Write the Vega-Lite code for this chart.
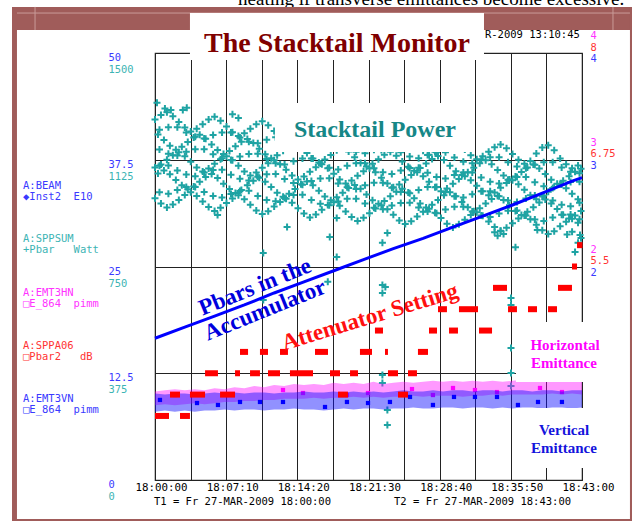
{
"$schema":"https://vega.github.io/schema/vega-lite/v6.json",
"width":427,"height":427,"autosize":"none",
"padding":{"left":155,"top":53,"right":50,"bottom":41},
"background":"#ffffff",
"config":{"view":{"stroke":"#333333","strokeWidth":1.2},"axis":{"zindex":0}},
"datasets":{
"power":[
{"t":0,"w":1266},{"t":0.6,"w":1282},{"t":1.2,"w":1292},{"t":1.8,"w":1278},{"t":2.4,"w":1258},{"t":3,"w":1238},{"t":3.6,"w":1224},{"t":4.2,"w":1234},{"t":4.8,"w":1250},{"t":5.4,"w":1266},{"t":6,"w":1276},{"t":6.6,"w":1262},{"t":7.2,"w":1242},{"t":7.8,"w":1222},{"t":8.4,"w":1208},{"t":9,"w":1218},{"t":9.6,"w":1234},{"t":10.2,"w":1250},{"t":10.8,"w":1260},{"t":11.4,"w":1246},{"t":12,"w":1226},{"t":12.6,"w":1206},{"t":13.2,"w":1192},{"t":13.8,"w":1202},{"t":14.4,"w":1218},{"t":15,"w":1234},{"t":15.6,"w":1244},{"t":16.2,"w":1230},{"t":16.8,"w":1209},{"t":17.4,"w":1189},{"t":18,"w":1175},{"t":18.6,"w":1185},{"t":19.2,"w":1201},{"t":19.8,"w":1217},{"t":20.4,"w":1227},{"t":21,"w":1213},{"t":21.6,"w":1193},{"t":22.2,"w":1173},{"t":22.8,"w":1159},{"t":23.4,"w":1169},{"t":24,"w":1185},{"t":24.6,"w":1201},{"t":25.2,"w":1211},{"t":25.8,"w":1197},{"t":26.4,"w":1177},{"t":27,"w":1157},{"t":27.6,"w":1143},{"t":28.2,"w":1153},{"t":28.8,"w":1169},{"t":29.4,"w":1185},{"t":30,"w":1195},{"t":30.6,"w":1181},{"t":31.2,"w":1161},{"t":31.8,"w":1141},{"t":32.4,"w":1127},{"t":33,"w":1137},{"t":33.6,"w":1153},{"t":34.2,"w":1169},{"t":34.8,"w":1179},{"t":35.4,"w":1165},{"t":36,"w":1145},{"t":36.6,"w":1125},{"t":37.2,"w":1111},{"t":37.8,"w":1121},{"t":38.4,"w":1147},{"t":39,"w":1168},{"t":39.6,"w":1176},{"t":40.2,"w":1158},{"t":40.8,"w":1129},{"t":41.4,"w":1109},{"t":42,"w":1095},{"t":42.6,"w":1105},
{"t":0.3,"w":1214},{"t":0.9,"w":1194},{"t":1.5,"w":1174},{"t":2.1,"w":1160},{"t":2.7,"w":1171},{"t":3.3,"w":1187},{"t":3.9,"w":1203},{"t":4.5,"w":1213},{"t":5.1,"w":1199},{"t":5.7,"w":1179},{"t":6.3,"w":1159},{"t":6.9,"w":1145},{"t":7.5,"w":1156},{"t":8.1,"w":1172},{"t":8.7,"w":1188},{"t":9.3,"w":1198},{"t":9.9,"w":1184},{"t":10.5,"w":1164},{"t":11.1,"w":1144},{"t":11.7,"w":1130},{"t":12.3,"w":1141},{"t":12.9,"w":1157},{"t":13.5,"w":1173},{"t":14.1,"w":1183},{"t":14.7,"w":1169},{"t":15.3,"w":1149},{"t":15.9,"w":1129},{"t":16.5,"w":1115},{"t":17.1,"w":1126},{"t":17.7,"w":1142},{"t":18.3,"w":1158},{"t":18.9,"w":1168},{"t":19.5,"w":1154},{"t":20.1,"w":1134},{"t":20.7,"w":1114},{"t":21.3,"w":1101},{"t":21.9,"w":1111},{"t":22.5,"w":1127},{"t":23.1,"w":1143},{"t":23.7,"w":1153},{"t":24.3,"w":1139},{"t":24.9,"w":1119},{"t":25.5,"w":1100},{"t":26.1,"w":1086},{"t":26.7,"w":1096},{"t":27.3,"w":1112},{"t":27.9,"w":1128},{"t":28.5,"w":1138},{"t":29.1,"w":1124},{"t":29.7,"w":1104},{"t":30.3,"w":1085},{"t":30.9,"w":1071},{"t":31.5,"w":1081},{"t":32.1,"w":1097},{"t":32.7,"w":1113},{"t":33.3,"w":1123},{"t":33.9,"w":1109},{"t":34.5,"w":1089},{"t":35.1,"w":1070},{"t":35.7,"w":1056},{"t":36.3,"w":1066},{"t":36.9,"w":1082},{"t":37.5,"w":1098},{"t":38.1,"w":1108},{"t":38.7,"w":1094},{"t":39.3,"w":1075},{"t":39.9,"w":1055},{"t":40.5,"w":1041},{"t":41.1,"w":1051},{"t":41.7,"w":1067},{"t":42.3,"w":1083},{"t":42.9,"w":1093},
{"t":0,"w":1098},{"t":0.6,"w":1108},{"t":1.2,"w":1125},{"t":1.8,"w":1141},{"t":2.4,"w":1151},{"t":3,"w":1137},{"t":3.6,"w":1118},{"t":4.2,"w":1098},{"t":4.8,"w":1084},{"t":5.4,"w":1094},{"t":6,"w":1111},{"t":6.6,"w":1127},{"t":7.2,"w":1137},{"t":7.8,"w":1123},{"t":8.4,"w":1104},{"t":9,"w":1084},{"t":9.6,"w":1070},{"t":10.2,"w":1080},{"t":10.8,"w":1097},{"t":11.4,"w":1113},{"t":12,"w":1123},{"t":12.6,"w":1109},{"t":13.2,"w":1090},{"t":13.8,"w":1070},{"t":14.4,"w":1056},{"t":15,"w":1066},{"t":15.6,"w":1083},{"t":16.2,"w":1099},{"t":16.8,"w":1109},{"t":17.4,"w":1095},{"t":18,"w":1076},{"t":18.6,"w":1056},{"t":19.2,"w":1042},{"t":19.8,"w":1052},{"t":20.4,"w":1069},{"t":21,"w":1085},{"t":21.6,"w":1095},{"t":22.2,"w":1081},{"t":22.8,"w":1062},{"t":23.4,"w":1042},{"t":24,"w":1028},{"t":24.6,"w":1038},{"t":25.2,"w":1055},{"t":25.8,"w":1071},{"t":26.4,"w":1081},{"t":27,"w":1067},{"t":27.6,"w":1048},{"t":28.2,"w":1028},{"t":28.8,"w":1014},{"t":29.4,"w":1024},{"t":30,"w":1041},{"t":30.6,"w":1057},{"t":31.2,"w":1067},{"t":31.8,"w":1053},{"t":32.4,"w":1034},{"t":33,"w":1014},{"t":33.6,"w":1000},{"t":34.2,"w":1010},{"t":34.8,"w":1027},{"t":35.4,"w":1043},{"t":36,"w":1053},{"t":36.6,"w":1039},{"t":37.2,"w":1020},{"t":37.8,"w":1000},{"t":38.4,"w":986},{"t":39,"w":996},{"t":39.6,"w":1013},{"t":40.2,"w":1029},{"t":40.8,"w":1039},{"t":41.4,"w":1025},{"t":42,"w":1006},{"t":42.6,"w":986},
{"t":0.3,"w":1077},{"t":0.9,"w":1087},{"t":1.5,"w":1074},{"t":2.1,"w":1054},{"t":2.7,"w":1035},{"t":3.3,"w":1021},{"t":3.9,"w":1031},{"t":4.5,"w":1048},{"t":5.1,"w":1064},{"t":5.7,"w":1075},{"t":6.3,"w":1061},{"t":6.9,"w":1041},{"t":7.5,"w":1022},{"t":8.1,"w":1008},{"t":8.7,"w":1019},{"t":9.3,"w":1035},{"t":9.9,"w":1051},{"t":10.5,"w":1062},{"t":11.1,"w":1048},{"t":11.7,"w":1029},{"t":12.3,"w":1009},{"t":12.9,"w":995},{"t":13.5,"w":1006},{"t":14.1,"w":1022},{"t":14.7,"w":1039},{"t":15.3,"w":1049},{"t":15.9,"w":1035},{"t":16.5,"w":1016},{"t":17.1,"w":996},{"t":17.7,"w":983},{"t":18.3,"w":993},{"t":18.9,"w":1009},{"t":19.5,"w":1026},{"t":20.1,"w":1036},{"t":20.7,"w":1023},{"t":21.3,"w":1003},{"t":21.9,"w":983},{"t":22.5,"w":970},{"t":23.1,"w":980},{"t":23.7,"w":997},{"t":24.3,"w":1013},{"t":24.9,"w":1023},{"t":25.5,"w":1010},{"t":26.1,"w":990},{"t":26.7,"w":971},{"t":27.3,"w":957},{"t":27.9,"w":967},{"t":28.5,"w":984},{"t":29.1,"w":1000},{"t":29.7,"w":1011},{"t":30.3,"w":997},{"t":30.9,"w":977},{"t":31.5,"w":958},{"t":32.1,"w":944},{"t":32.7,"w":955},{"t":33.3,"w":971},{"t":33.9,"w":987},{"t":34.5,"w":998},{"t":35.1,"w":984},{"t":35.7,"w":965},{"t":36.3,"w":945},{"t":36.9,"w":931},{"t":37.5,"w":942},{"t":38.1,"w":958},{"t":38.7,"w":975},{"t":39.3,"w":985},{"t":39.9,"w":971},{"t":40.5,"w":952},{"t":41.1,"w":932},{"t":41.7,"w":919},{"t":42.3,"w":929},{"t":42.9,"w":945},
{"t":0,"w":990},{"t":0.6,"w":971},{"t":1.2,"w":957},{"t":1.8,"w":968},{"t":2.4,"w":984},{"t":3,"w":1001},{"t":3.6,"w":1011},{"t":4.2,"w":998},{"t":4.8,"w":978},{"t":5.4,"w":959},{"t":6,"w":945},{"t":6.6,"w":956},{"t":7.2,"w":973},{"t":7.8,"w":989},{"t":8.4,"w":1000},{"t":9,"w":986},{"t":9.6,"w":967},{"t":10.2,"w":947},{"t":10.8,"w":934},{"t":11.4,"w":944},{"t":12,"w":961},{"t":12.6,"w":977},{"t":13.2,"w":988},{"t":13.8,"w":974},{"t":14.4,"w":955},{"t":15,"w":936},{"t":15.6,"w":922},{"t":16.2,"w":933},{"t":16.8,"w":949},{"t":17.4,"w":966},{"t":18,"w":976},{"t":18.6,"w":963},{"t":19.2,"w":943},{"t":19.8,"w":924},{"t":20.4,"w":910},{"t":21,"w":921},{"t":21.6,"w":937},{"t":22.2,"w":954},{"t":22.8,"w":965},{"t":23.4,"w":951},{"t":24,"w":932},{"t":24.6,"w":912},{"t":25.2,"w":899},{"t":25.8,"w":909},{"t":26.4,"w":926},{"t":27,"w":942},{"t":27.6,"w":953},{"t":28.2,"w":939},{"t":28.8,"w":920},{"t":29.4,"w":900},{"t":30,"w":887},{"t":30.6,"w":898},{"t":31.2,"w":914},{"t":31.8,"w":931},{"t":32.4,"w":941},{"t":33,"w":928},{"t":33.6,"w":908},{"t":34.2,"w":889},{"t":34.8,"w":875},{"t":35.4,"w":886},{"t":36,"w":902},{"t":36.6,"w":919},{"t":37.2,"w":929},{"t":37.8,"w":916},{"t":38.4,"w":897},{"t":39,"w":877},{"t":39.6,"w":864},{"t":40.2,"w":874},{"t":40.8,"w":891},{"t":41.4,"w":907},{"t":42,"w":918},{"t":42.6,"w":904},
{"t":0.45,"w":1230},{"t":1.35,"w":1239},{"t":2.25,"w":1239},{"t":3.15,"w":1221},{"t":4.05,"w":1206},{"t":4.95,"w":1200},{"t":5.85,"w":1212},{"t":6.75,"w":1221},{"t":7.65,"w":1221},{"t":8.55,"w":1203},{"t":9.45,"w":1188},{"t":10.35,"w":1183},{"t":11.25,"w":1195},{"t":12.15,"w":1204},{"t":13.05,"w":1204},{"t":13.95,"w":1186},{"t":14.85,"w":1171},{"t":15.75,"w":1165},{"t":16.65,"w":1177},{"t":17.55,"w":1186},{"t":18.45,"w":1186},{"t":19.35,"w":1168},{"t":20.25,"w":1153},{"t":21.15,"w":1148},{"t":22.05,"w":1160},{"t":22.95,"w":1169},{"t":23.85,"w":1169},{"t":24.75,"w":1151},{"t":25.65,"w":1136},{"t":26.55,"w":1130},{"t":27.45,"w":1142},{"t":28.35,"w":1151},{"t":29.25,"w":1151},{"t":30.15,"w":1133},{"t":31.05,"w":1118},{"t":31.95,"w":1113},{"t":32.85,"w":1125},{"t":33.75,"w":1134},{"t":34.65,"w":1134},{"t":35.55,"w":1116},{"t":36.45,"w":1101},{"t":37.35,"w":1095},{"t":38.25,"w":1107},{"t":39.15,"w":1116},{"t":40.05,"w":1116},{"t":40.95,"w":1098},{"t":41.85,"w":1083},{"t":42.75,"w":1078},
{"t":0.45,"w":1161},{"t":1.35,"w":1146},{"t":2.25,"w":1140},{"t":3.15,"w":1153},{"t":4.05,"w":1162},{"t":4.95,"w":1162},{"t":5.85,"w":1144},{"t":6.75,"w":1130},{"t":7.65,"w":1124},{"t":8.55,"w":1136},{"t":9.45,"w":1145},{"t":10.35,"w":1146},{"t":11.25,"w":1128},{"t":12.15,"w":1113},{"t":13.05,"w":1108},{"t":13.95,"w":1120},{"t":14.85,"w":1129},{"t":15.75,"w":1129},{"t":16.65,"w":1112},{"t":17.55,"w":1097},{"t":18.45,"w":1091},{"t":19.35,"w":1104},{"t":20.25,"w":1113},{"t":21.15,"w":1113},{"t":22.05,"w":1095},{"t":22.95,"w":1081},{"t":23.85,"w":1075},{"t":24.75,"w":1087},{"t":25.65,"w":1096},{"t":26.55,"w":1097},{"t":27.45,"w":1079},{"t":28.35,"w":1064},{"t":29.25,"w":1059},{"t":30.15,"w":1071},{"t":31.05,"w":1080},{"t":31.95,"w":1080},{"t":32.85,"w":1063},{"t":33.75,"w":1048},{"t":34.65,"w":1042},{"t":35.55,"w":1055},{"t":36.45,"w":1064},{"t":37.35,"w":1064},{"t":38.25,"w":1046},{"t":39.15,"w":1032},{"t":40.05,"w":1026},{"t":40.95,"w":1038},{"t":41.85,"w":1047},{"t":42.75,"w":1048},
{"t":0.45,"w":1104},{"t":1.35,"w":1105},{"t":2.25,"w":1087},{"t":3.15,"w":1073},{"t":4.05,"w":1067},{"t":4.95,"w":1080},{"t":5.85,"w":1089},{"t":6.75,"w":1090},{"t":7.65,"w":1072},{"t":8.55,"w":1058},{"t":9.45,"w":1052},{"t":10.35,"w":1065},{"t":11.25,"w":1074},{"t":12.15,"w":1075},{"t":13.05,"w":1057},{"t":13.95,"w":1043},{"t":14.85,"w":1037},{"t":15.75,"w":1050},{"t":16.65,"w":1059},{"t":17.55,"w":1060},{"t":18.45,"w":1042},{"t":19.35,"w":1028},{"t":20.25,"w":1022},{"t":21.15,"w":1035},{"t":22.05,"w":1044},{"t":22.95,"w":1044},{"t":23.85,"w":1027},{"t":24.75,"w":1012},{"t":25.65,"w":1007},{"t":26.55,"w":1019},{"t":27.45,"w":1029},{"t":28.35,"w":1029},{"t":29.25,"w":1012},{"t":30.15,"w":997},{"t":31.05,"w":992},{"t":31.95,"w":1004},{"t":32.85,"w":1014},{"t":33.75,"w":1014},{"t":34.65,"w":997},{"t":35.55,"w":982},{"t":36.45,"w":977},{"t":37.35,"w":989},{"t":38.25,"w":999},{"t":39.15,"w":999},{"t":40.05,"w":982},{"t":40.95,"w":967},{"t":41.85,"w":962},{"t":42.75,"w":974},
{"t":0.45,"w":1011},{"t":1.35,"w":1006},{"t":2.25,"w":1019},{"t":3.15,"w":1029},{"t":4.05,"w":1029},{"t":4.95,"w":1012},{"t":5.85,"w":998},{"t":6.75,"w":992},{"t":7.65,"w":1005},{"t":8.55,"w":1015},{"t":9.45,"w":1016},{"t":10.35,"w":998},{"t":11.25,"w":984},{"t":12.15,"w":979},{"t":13.05,"w":991},{"t":13.95,"w":1001},{"t":14.85,"w":1002},{"t":15.75,"w":984},{"t":16.65,"w":970},{"t":17.55,"w":965},{"t":18.45,"w":978},{"t":19.35,"w":988},{"t":20.25,"w":988},{"t":21.15,"w":971},{"t":22.05,"w":956},{"t":22.95,"w":951},{"t":23.85,"w":964},{"t":24.75,"w":973},{"t":25.65,"w":974},{"t":26.55,"w":957},{"t":27.45,"w":943},{"t":28.35,"w":937},{"t":29.25,"w":950},{"t":30.15,"w":960},{"t":31.05,"w":960},{"t":31.95,"w":943},{"t":32.85,"w":929},{"t":33.75,"w":924},{"t":34.65,"w":936},{"t":35.55,"w":946},{"t":36.45,"w":947},{"t":37.35,"w":929},{"t":38.25,"w":915},{"t":39.15,"w":910},{"t":40.05,"w":922},{"t":40.95,"w":932},{"t":41.85,"w":933},{"t":42.75,"w":916},
{"t":0.2,"w":1325},{"t":1.0,"w":1305},{"t":1.6,"w":1300},{"t":2.8,"w":1300},{"t":3.2,"w":1308},{"t":7.8,"w":1285},{"t":8.4,"w":1272},{"t":6.3,"w":931},{"t":10.9,"w":797},{"t":10.9,"w":632},{"t":13.3,"w":889},{"t":17.4,"w":696},{"t":17.6,"w":854},{"t":18.3,"w":920},{"t":18.3,"w":783},{"t":22.9,"w":833},{"t":23.4,"w":868},{"t":23.2,"w":678},{"t":22.9,"w":685},{"t":22.9,"w":657},{"t":22.9,"w":369},{"t":22.9,"w":341},{"t":23.4,"w":246},{"t":23.4,"w":193},{"t":34.2,"w":870},{"t":34.5,"w":858},{"t":34.8,"w":876},{"t":35.1,"w":864},{"t":35.85,"w":639},{"t":35.85,"w":615},{"t":35.85,"w":464},{"t":35.85,"w":376},{"t":35.85,"w":330},{"t":36.3,"w":818},{"t":38.5,"w":878},{"t":41.5,"w":862},{"t":42.0,"w":872},{"t":42.3,"w":801},{"t":42.6,"w":833},{"t":42.9,"w":850},{"t":42.8,"w":861}
],
"hband":[
{"t":0,"e":0.70,"e2":0.83},{"t":1,"e":0.71,"e2":0.84},{"t":2,"e":0.70,"e2":0.85},{"t":3,"e":0.71,"e2":0.84},{"t":4,"e":0.72,"e2":0.85},{"t":5,"e":0.71,"e2":0.84},{"t":6,"e":0.72,"e2":0.86},{"t":7,"e":0.73,"e2":0.85},{"t":8,"e":0.73,"e2":0.87},{"t":9,"e":0.74,"e2":0.86},{"t":10,"e":0.74,"e2":0.88},{"t":11,"e":0.75,"e2":0.87},{"t":12,"e":0.75,"e2":0.89},{"t":13,"e":0.76,"e2":0.88},{"t":14,"e":0.76,"e2":0.90},{"t":15,"e":0.76,"e2":0.89},{"t":16,"e":0.77,"e2":0.90},{"t":17,"e":0.76,"e2":0.89},{"t":18,"e":0.77,"e2":0.91},{"t":19,"e":0.77,"e2":0.90},{"t":20,"e":0.78,"e2":0.91},{"t":21,"e":0.77,"e2":0.90},{"t":22,"e":0.78,"e2":0.92},{"t":23,"e":0.77,"e2":0.90},{"t":24,"e":0.78,"e2":0.91},{"t":25,"e":0.78,"e2":0.92},{"t":26,"e":0.79,"e2":0.91},{"t":27,"e":0.78,"e2":0.92},{"t":28,"e":0.79,"e2":0.93},{"t":29,"e":0.79,"e2":0.92},{"t":30,"e":0.79,"e2":0.93},{"t":31,"e":0.78,"e2":0.92},{"t":32,"e":0.79,"e2":0.93},{"t":33,"e":0.79,"e2":0.92},{"t":34,"e":0.80,"e2":0.93},{"t":35,"e":0.79,"e2":0.92},{"t":36,"e":0.80,"e2":0.93},{"t":37,"e":0.80,"e2":0.94},{"t":38,"e":0.80,"e2":0.93},{"t":39,"e":0.80,"e2":0.94},{"t":40,"e":0.81,"e2":0.93},{"t":41,"e":0.80,"e2":0.94},{"t":42,"e":0.81,"e2":0.93},{"t":43,"e":0.80,"e2":0.93}
],
"hpts":[
{"t":2.01,"e":0.796},{"t":12.89,"e":0.843},{"t":14.9,"e":0.815},{"t":19.33,"e":0.796},{"t":21.45,"e":0.815},{"t":25.88,"e":0.852},{"t":27.99,"e":0.796},{"t":30.01,"e":0.862},{"t":32.22,"e":0.843},{"t":34.44,"e":0.824},{"t":38.77,"e":0.862},{"t":40.98,"e":0.824}
],
"vband":[
{"t":0,"e":0.64,"e2":0.81},{"t":1,"e":0.65,"e2":0.80},{"t":2,"e":0.64,"e2":0.81},{"t":3,"e":0.65,"e2":0.81},{"t":4,"e":0.64,"e2":0.80},{"t":5,"e":0.65,"e2":0.81},{"t":6,"e":0.65,"e2":0.82},{"t":7,"e":0.66,"e2":0.81},{"t":8,"e":0.65,"e2":0.82},{"t":9,"e":0.66,"e2":0.81},{"t":10,"e":0.66,"e2":0.82},{"t":11,"e":0.65,"e2":0.82},{"t":12,"e":0.66,"e2":0.81},{"t":13,"e":0.66,"e2":0.82},{"t":14,"e":0.67,"e2":0.82},{"t":15,"e":0.66,"e2":0.83},{"t":16,"e":0.66,"e2":0.82},{"t":17,"e":0.65,"e2":0.82},{"t":18,"e":0.66,"e2":0.83},{"t":19,"e":0.67,"e2":0.82},{"t":20,"e":0.66,"e2":0.83},{"t":21,"e":0.67,"e2":0.82},{"t":22,"e":0.67,"e2":0.83},{"t":23,"e":0.66,"e2":0.82},{"t":24,"e":0.67,"e2":0.83},{"t":25,"e":0.67,"e2":0.84},{"t":26,"e":0.68,"e2":0.83},{"t":27,"e":0.67,"e2":0.83},{"t":28,"e":0.67,"e2":0.84},{"t":29,"e":0.68,"e2":0.83},{"t":30,"e":0.68,"e2":0.84},{"t":31,"e":0.67,"e2":0.84},{"t":32,"e":0.68,"e2":0.83},{"t":33,"e":0.68,"e2":0.84},{"t":34,"e":0.67,"e2":0.84},{"t":35,"e":0.68,"e2":0.83},{"t":36,"e":0.67,"e2":0.84},{"t":37,"e":0.68,"e2":0.84},{"t":38,"e":0.68,"e2":0.83},{"t":39,"e":0.67,"e2":0.84},{"t":40,"e":0.68,"e2":0.84},{"t":41,"e":0.68,"e2":0.83},{"t":42,"e":0.67,"e2":0.84},{"t":43,"e":0.68,"e2":0.84}
],
"vpts":[
{"t":0.5,"e":0.75},{"t":4.23,"e":0.721},{"t":6.34,"e":0.703},{"t":8.56,"e":0.731},{"t":10.57,"e":0.731},{"t":12.89,"e":0.731},{"t":17.12,"e":0.684},{"t":19.33,"e":0.731},{"t":21.45,"e":0.721},{"t":23.66,"e":0.731},{"t":25.68,"e":0.778},{"t":27.99,"e":0.703},{"t":30.11,"e":0.778},{"t":32.22,"e":0.778},{"t":34.44,"e":0.778},{"t":36.55,"e":0.703},{"t":38.57,"e":0.731},{"t":40.98,"e":0.731}
],
"atten":[
{"t":0,"t2":1.41,"db":3.75},{"t":2.52,"t2":3.52,"db":3.75},
{"t":1.51,"t2":2.52,"db":4.0},{"t":3.52,"t2":5.04,"db":4.0},{"t":6.55,"t2":8.06,"db":4.0},{"t":18.43,"t2":19.43,"db":4.0},{"t":24.47,"t2":25.48,"db":4.0},
{"t":5.04,"t2":6.34,"db":4.25},{"t":8.06,"t2":8.56,"db":4.25},{"t":9.57,"t2":10.57,"db":4.25},{"t":11.38,"t2":12.59,"db":4.25},{"t":13.59,"t2":15.91,"db":4.25},{"t":17.62,"t2":18.63,"db":4.25},{"t":19.64,"t2":20.44,"db":4.25},{"t":23.46,"t2":24.47,"db":4.25},{"t":25.48,"t2":26.38,"db":4.25},
{"t":8.56,"t2":9.37,"db":4.5},{"t":10.57,"t2":11.38,"db":4.5},{"t":12.59,"t2":13.39,"db":4.5},{"t":16.11,"t2":17.42,"db":4.5},{"t":20.64,"t2":21.85,"db":4.5},{"t":23.16,"t2":23.46,"db":4.5},{"t":26.48,"t2":27.49,"db":4.5},
{"t":22.15,"t2":22.96,"db":4.75},{"t":27.59,"t2":28.4,"db":4.75},{"t":29.61,"t2":30.51,"db":4.75},{"t":32.63,"t2":33.94,"db":4.75},
{"t":28.5,"t2":29.4,"db":5.0},{"t":30.61,"t2":32.53,"db":5.0},{"t":35.55,"t2":36.45,"db":5.0},{"t":37.56,"t2":38.47,"db":5.0},{"t":39.58,"t2":40.48,"db":5.0},
{"t":34.04,"t2":35.45,"db":5.25},{"t":40.58,"t2":41.99,"db":5.25},
{"t":41.99,"t2":42.5,"db":5.5},{"t":42.5,"t2":43.05,"db":5.75}
],
"beam":[
{"t":0,"b":16.6},{"t":3,"b":17.9},{"t":6,"b":19.2},{"t":9,"b":20.5},{"t":12,"b":21.9},{"t":15,"b":23.2},{"t":18,"b":24.5},{"t":21,"b":25.8},{"t":24,"b":27.1},{"t":27,"b":28.3},{"t":30,"b":29.6},{"t":33,"b":30.9},{"t":36,"b":32.2},{"t":39,"b":33.6},{"t":42,"b":35.0},{"t":43,"b":35.4}
],
"frame":[
{"t":-14.4,"t2":48.5,"v":55.4,"v2":52.69},{"t":-14.4,"t2":-13.9,"v":55.4,"v2":-4.9},{"t":47.83,"t2":48.5,"v":55.4,"v2":-4.9},{"t":-14.4,"t2":48.5,"v":-4.57,"v2":-4.9}
],
"frameLines":[
{"t":-13.9,"t2":47.83,"v":54.68,"v2":54.68},{"t":-12.08,"t2":-12.08,"v":55.4,"v2":52.69},{"t":46.12,"t2":46.12,"v":55.4,"v2":52.69}
],
"boxes":[
{"t":3.52,"t2":33.13,"v":54.68,"v2":49.18},{"t":12.08,"t2":32.22,"v":44.15,"v2":38.41},{"t":36.35,"t2":46.02,"v":18.5,"v2":11.48},{"t":36.35,"t2":46.02,"v":8.43,"v2":1.4}
],
"mono":[
{"t":-13.29,"v":34.47,"txt":"A:BEAM","s":"b"},
{"t":-13.29,"v":33.1,"txt":"◆Inst2\u00a0\u00a0E10","s":"b"},
{"t":-13.29,"v":28.26,"txt":"A:SPPSUM","s":"c"},
{"t":-13.29,"v":26.89,"txt":"+Pbar\u00a0\u00a0\u00a0Watt","s":"c"},
{"t":-13.29,"v":21.94,"txt":"A:EMT3HN","s":"m"},
{"t":-13.29,"v":20.57,"txt":"□E_864\u00a0\u00a0pimm","s":"m"},
{"t":-13.29,"v":15.73,"txt":"A:SPPA06","s":"r"},
{"t":-13.29,"v":14.36,"txt":"□Pbar2\u00a0\u00a0\u00a0dB","s":"r"},
{"t":-13.29,"v":9.52,"txt":"A:EMT3VN","s":"v"},
{"t":-13.29,"v":8.16,"txt":"□E_864\u00a0\u00a0pimm","s":"v"},
{"t":33.23,"v":52.11,"txt":"R-2009 13:10:45","s":"k"},
{"t":-0.1,"v":-2.58,"txt":"T1 = Fr 27-MAR-2009 18:00:00","s":"k"},
{"t":24.07,"v":-2.58,"txt":"T2 = Fr 27-MAR-2009 18:43:00","s":"k"}
]
},
"encoding":{"x":{"field":"t","type":"quantitative","scale":{"domain":[0,43],"nice":false,"zero":false},
"axis":{"values":[0,3.583333,7.166667,10.75,14.333333,17.916667,21.5,25.083333,28.666667,32.25,35.833333,39.416667,43],
"grid":true,"gridColor":"#222222","gridWidth":1,"ticks":false,"tickSize":0,"domain":false,
"labelExpr":"round(datum.value/3.583333)%2==0 ? '18:' + format(floor(round(datum.value*60)/60),'02d') + ':' + format(round(datum.value*60)%60,'02d') : ''",
"labelFlush":false,"labelOverlap":false,"labelBound":false,"labelPadding":1,"labelOffset":6,"labelFont":"DejaVu Sans Mono","labelFontSize":10.8,"labelColor":"#000000","title":null,"zindex":0}}},
"resolve":{"scale":{"y":"independent","color":"independent"}},
"layer":[
{"data":{"name":"power"},
 "mark":{"type":"point","shape":"M-1,0L1,0M0,-1L0,1","size":49,"filled":false,"strokeWidth":2,"color":"#1ea3a3","opacity":1},
 "encoding":{"y":{"field":"w","type":"quantitative","scale":{"domain":[0,1500],"nice":false,"zero":false},
  "axis":{"orient":"left","values":[0,375,750,1125,1500],"format":"d","grid":false,"ticks":false,"tickSize":0,"domain":false,"labelAlign":"left","labelPadding":47,"labelOffset":16.5,"labelColor":"#3cb4b4","labelFont":"DejaVu Sans Mono","labelFontSize":10.4,"labelOverlap":false,"title":null,"zindex":0}}}},
{"encoding":{"y":{"field":"e","type":"quantitative","scale":{"domain":[0,4],"nice":false,"zero":false},
  "axis":{"orient":"right","values":[2,3,4],"format":"d","grid":false,"ticks":false,"tickSize":0,"domain":false,"labelAlign":"left","labelPadding":8,"labelOffset":-17.5,"labelColor":"#ff33ff","labelFont":"DejaVu Sans Mono","labelFontSize":10.4,"labelOverlap":false,"title":null,"zindex":0}}},
 "layer":[
  {"data":{"name":"hband"},"mark":{"type":"area","color":"#ff00ff","opacity":0.4},"encoding":{"y2":{"field":"e2"}}},
  {"data":{"name":"hpts"},"mark":{"type":"point","shape":"square","size":18,"filled":true,"color":"#ff00ff","opacity":1}}
 ]},
{"encoding":{"y":{"field":"e","type":"quantitative","scale":{"domain":[0,4],"nice":false,"zero":false},
  "axis":{"orient":"right","values":[2,3,4],"format":"d","grid":false,"ticks":false,"tickSize":0,"domain":false,"labelAlign":"left","labelPadding":8,"labelOffset":5.5,"labelColor":"#3a3aff","labelFont":"DejaVu Sans Mono","labelFontSize":10.4,"labelOverlap":false,"title":null,"zindex":0}}},
 "layer":[
  {"data":{"name":"vband"},"mark":{"type":"area","color":"#1010ff","opacity":0.46},"encoding":{"y2":{"field":"e2"}}},
  {"data":{"name":"vpts"},"mark":{"type":"point","shape":"square","size":18,"filled":true,"color":"#0000ff","opacity":1}}
 ]},
{"data":{"name":"atten"},
 "mark":{"type":"rule","color":"#ff0000","strokeWidth":6},
 "encoding":{"x2":{"field":"t2"},"y":{"field":"db","type":"quantitative","scale":{"domain":[3,8],"nice":false,"zero":false},
  "axis":{"orient":"right","values":[5.5,6.75,8],"format":".2~f","grid":false,"ticks":false,"tickSize":0,"domain":false,"labelAlign":"left","labelPadding":8,"labelOffset":-6,"labelColor":"#ff3333","labelFont":"DejaVu Sans Mono","labelFontSize":10.4,"labelOverlap":false,"title":null,"zindex":0}}}},
{"data":{"name":"beam"},
 "mark":{"type":"line","color":"#0000ff","strokeWidth":3},
 "encoding":{"y":{"field":"b","type":"quantitative","scale":{"domain":[0,50],"nice":false,"zero":false},
  "axis":{"orient":"left","values":[0,12.5,25,37.5,50],"format":".1~f","grid":true,"gridColor":"#222222","gridWidth":1,"ticks":false,"tickSize":0,"domain":false,"labelAlign":"left","labelPadding":47,"labelOffset":4.5,"labelColor":"#3a3aff","labelFont":"DejaVu Sans Mono","labelFontSize":10.4,"labelOverlap":false,"title":null,"zindex":0}}}},
{"encoding":{"y":{"field":"v","type":"quantitative","scale":{"domain":[0,50],"nice":false,"zero":false},"axis":null}},
 "layer":[
  {"data":{"values":[{"t":8.36,"v":55.62,"txt":"heating if transverse emittances become excessive."}]},
   "mark":{"type":"text","font":"Liberation Serif","fontSize":19,"align":"left","baseline":"alphabetic","color":"#000000"},
   "encoding":{"text":{"field":"txt"}}},
  {"data":{"name":"frame"},"mark":{"type":"rect","color":"#a05c5a"},"encoding":{"x2":{"field":"t2"},"y2":{"field":"v2"}}},
  {"data":{"name":"frameLines"},"mark":{"type":"rule","color":"#c99b98","strokeWidth":1},"encoding":{"x2":{"field":"t2"},"y2":{"field":"v2"}}},
  {"data":{"name":"boxes"},"mark":{"type":"rect","color":"#ffffff"},"encoding":{"x2":{"field":"t2"},"y2":{"field":"v2"}}},
  {"data":{"name":"mono"},"mark":{"type":"text","font":"DejaVu Sans Mono","fontSize":10.5,"align":"left","baseline":"middle"},
   "encoding":{"text":{"field":"txt"},"color":{"field":"s","type":"nominal","scale":{"domain":["b","c","m","r","v","k"],"range":["#3a3aff","#3cb4b4","#ff33ff","#ff3333","#3a3aff","#000000"]},"legend":null}}},
  {"data":{"values":[{"t":18.33,"v":50.12,"txt":"The Stacktail Monitor"}]},
   "mark":{"type":"text","font":"Liberation Serif","fontWeight":"bold","fontSize":28,"align":"center","baseline":"alphabetic","color":"#800000"},
   "encoding":{"text":{"field":"txt"}}},
  {"data":{"values":[{"t":22.15,"v":40.16,"txt":"Stacktail Power"}]},
   "mark":{"type":"text","font":"Liberation Serif","fontWeight":"bold","fontSize":24,"align":"center","baseline":"alphabetic","color":"#168787"},
   "encoding":{"text":{"field":"txt"}}},
  {"data":{"values":[{"t":10.07,"v":22.6,"txt":"Pbars in the"},{"t":11.08,"v":19.9,"txt":"Accumulator"}]},
   "mark":{"type":"text","font":"Liberation Serif","fontWeight":"bold","fontSize":23,"align":"center","baseline":"middle","angle":-22,"color":"#0000dd"},
   "encoding":{"text":{"field":"txt"}}},
  {"data":{"values":[{"t":21.65,"v":19.09,"txt":"Attenuator Setting"}]},
   "mark":{"type":"text","font":"Liberation Serif","fontWeight":"bold","fontSize":23,"align":"center","baseline":"middle","angle":-17,"color":"#ff1010"},
   "encoding":{"text":{"field":"txt"}}},
  {"data":{"values":[{"t":41.29,"v":15.81,"txt":"Horizontal"},{"t":41.19,"v":13.7,"txt":"Emittance"}]},
   "mark":{"type":"text","font":"Liberation Serif","fontWeight":"bold","fontSize":15,"align":"center","baseline":"middle","color":"#ff00ff"},
   "encoding":{"text":{"field":"txt"}}},
  {"data":{"values":[{"t":41.19,"v":5.85,"txt":"Vertical"},{"t":41.19,"v":3.75,"txt":"Emittance"}]},
   "mark":{"type":"text","font":"Liberation Serif","fontWeight":"bold","fontSize":15,"align":"center","baseline":"middle","color":"#1414dc"},
   "encoding":{"text":{"field":"txt"}}}
 ]}
]
}
